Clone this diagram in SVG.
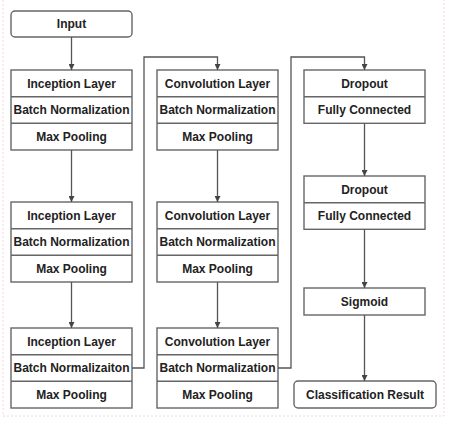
<svg xmlns="http://www.w3.org/2000/svg" width="449" height="421" viewBox="0 0 449 421">
<defs>
<style>
.box{fill:#ffffff;stroke:#666666;stroke-width:1.4}
.div{stroke:#666666;stroke-width:1.4}
.t{font-family:"Liberation Sans",Arial,sans-serif;font-size:12px;font-weight:bold;fill:#222222;text-anchor:middle}
.c{fill:none;stroke:#555555;stroke-width:1.3}
</style>
<marker id="ah" viewBox="0 0 8 8" refX="8" refY="4" markerWidth="6" markerHeight="6" orient="auto" markerUnits="userSpaceOnUse">
<path d="M0,0 L8,4 L0,8 Z" fill="#444444"/>
</marker>
</defs>
<rect width="449" height="421" fill="#ffffff"/>
<path d="M3,0 V416 H444 V0" fill="none" stroke="#f2d6da" stroke-width="1" stroke-dasharray="2,2"/>

<g id="input"><rect class="box" x="11" y="11" width="121" height="26" rx="4"/><text class="t" x="71.5" y="28">Input</text></g>

<g id="c1b1">
<rect class="box" x="11" y="70" width="121" height="80"/>
<line class="div" x1="11" y1="96.7" x2="132" y2="96.7"/><line class="div" x1="11" y1="123.3" x2="132" y2="123.3"/>
<text class="t" x="71.5" y="87.5">Inception Layer</text><text class="t" x="71.5" y="114.2">Batch Normalization</text><text class="t" x="71.5" y="140.8">Max Pooling</text>
</g>
<g id="c1b2">
<rect class="box" x="11" y="202" width="121" height="80"/>
<line class="div" x1="11" y1="228.7" x2="132" y2="228.7"/><line class="div" x1="11" y1="255.3" x2="132" y2="255.3"/>
<text class="t" x="71.5" y="219.5">Inception Layer</text><text class="t" x="71.5" y="246.2">Batch Normalization</text><text class="t" x="71.5" y="272.8">Max Pooling</text>
</g>
<g id="c1b3">
<rect class="box" x="11" y="328" width="121" height="80"/>
<line class="div" x1="11" y1="354.7" x2="132" y2="354.7"/><line class="div" x1="11" y1="381.3" x2="132" y2="381.3"/>
<text class="t" x="71.5" y="345.5">Inception Layer</text><text class="t" x="71.5" y="372.2">Batch Normalizaiton</text><text class="t" x="71.5" y="398.8">Max Pooling</text>
</g>

<g id="c2b1">
<rect class="box" x="157" y="70" width="121" height="80"/>
<line class="div" x1="157" y1="96.7" x2="278" y2="96.7"/><line class="div" x1="157" y1="123.3" x2="278" y2="123.3"/>
<text class="t" x="217.5" y="87.5">Convolution Layer</text><text class="t" x="217.5" y="114.2">Batch Normalization</text><text class="t" x="217.5" y="140.8">Max Pooling</text>
</g>
<g id="c2b2">
<rect class="box" x="157" y="202" width="121" height="80"/>
<line class="div" x1="157" y1="228.7" x2="278" y2="228.7"/><line class="div" x1="157" y1="255.3" x2="278" y2="255.3"/>
<text class="t" x="217.5" y="219.5">Convolution Layer</text><text class="t" x="217.5" y="246.2">Batch Normalization</text><text class="t" x="217.5" y="272.8">Max Pooling</text>
</g>
<g id="c2b3">
<rect class="box" x="157" y="328" width="121" height="80"/>
<line class="div" x1="157" y1="354.7" x2="278" y2="354.7"/><line class="div" x1="157" y1="381.3" x2="278" y2="381.3"/>
<text class="t" x="217.5" y="345.5">Convolution Layer</text><text class="t" x="217.5" y="372.2">Batch Normalization</text><text class="t" x="217.5" y="398.8">Max Pooling</text>
</g>

<g id="c3b1">
<rect class="box" x="304" y="70" width="121" height="53.3"/>
<line class="div" x1="304" y1="96.7" x2="425" y2="96.7"/>
<text class="t" x="364.5" y="87.5">Dropout</text><text class="t" x="364.5" y="114.2">Fully Connected</text>
</g>
<g id="c3b2">
<rect class="box" x="304" y="176" width="121" height="53.3"/>
<line class="div" x1="304" y1="202.7" x2="425" y2="202.7"/>
<text class="t" x="364.5" y="193.5">Dropout</text><text class="t" x="364.5" y="220.2">Fully Connected</text>
</g>
<g id="sigmoid"><rect class="box" x="304" y="288" width="121" height="27"/><text class="t" x="364.5" y="305.5">Sigmoid</text></g>
<g id="result"><rect class="box" x="294" y="381" width="142" height="27" rx="4"/><text class="t" x="365" y="398.5">Classification Result</text></g>

<g id="connectors">
<path class="c" d="M71.5,37 V70" marker-end="url(#ah)"/>
<path class="c" d="M71.5,150 V202" marker-end="url(#ah)"/>
<path class="c" d="M71.5,282 V328" marker-end="url(#ah)"/>
<path class="c" d="M132,368 H144 V57 H217.5 V70" marker-end="url(#ah)"/>
<path class="c" d="M217.5,150 V202" marker-end="url(#ah)"/>
<path class="c" d="M217.5,282 V328" marker-end="url(#ah)"/>
<path class="c" d="M278,368 H291 V57 H364.5 V70" marker-end="url(#ah)"/>
<path class="c" d="M364.5,123.3 V176" marker-end="url(#ah)"/>
<path class="c" d="M364.5,229.3 V288" marker-end="url(#ah)"/>
<path class="c" d="M364.5,315 V381" marker-end="url(#ah)"/>
</g>
</svg>
